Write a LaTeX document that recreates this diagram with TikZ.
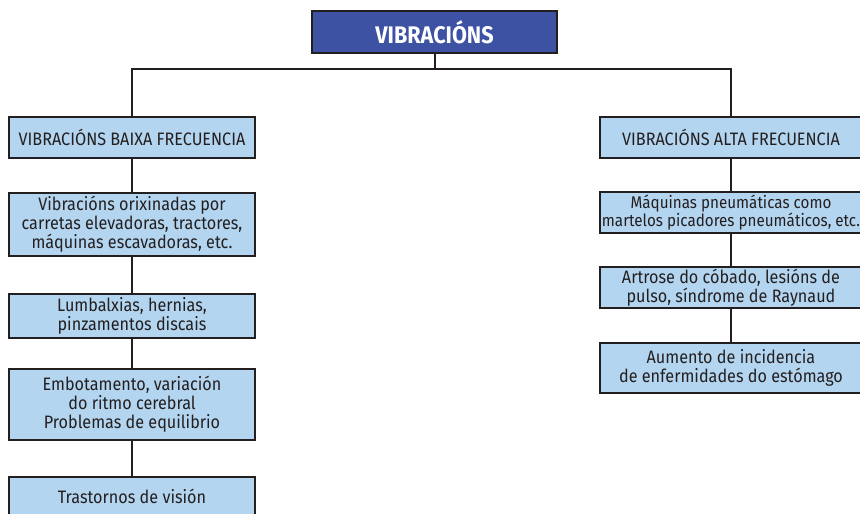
\documentclass[tikz,border=0pt]{standalone}
\usepackage{fontspec}
\setmainfont{Fira Sans}[FakeStretch=0.9]
\usepackage{xcolor}
\usepackage{tikz}
\usetikzlibrary{positioning, calc}

\definecolor{titleblue}{HTML}{3D52A3}
\definecolor{boxblue}{HTML}{B4D5EF}
\definecolor{edge}{HTML}{231F20}

\begin{document}
\begin{tikzpicture}[
    x=1pt, y=-1pt,
    title/.style={rectangle, draw=edge, line width=2.6pt, fill=titleblue, text=white, font=\fontsize{24}{26}\selectfont\bfseries, minimum width=245pt, minimum height=42pt, inner sep=0pt},
    header/.style={rectangle, draw=edge, line width=1.6pt, fill=boxblue, text=edge, font=\fontsize{18}{18.8}\selectfont, minimum height=41pt, inner sep=0pt, align=center},
    effect/.style={header},
    link/.style={line width=2pt, draw=edge}
]
\useasboundingbox (0,0) rectangle (860,514);
\clip (0,0) rectangle (860,514);

\node[title] (vib) at (434.5,32) {VIBRACIÓNS};

\node[header, minimum width=246pt] (low) at (132,137.5) {VIBRACIÓNS BAIXA FRECUENCIA};
\node[header, minimum width=262pt] (high) at (731,137.5) {VIBRACIÓNS ALTA FRECUENCIA};

% baixa frecuencia
\node[effect, minimum width=246pt, minimum height=63pt] (low1) at (132,224.5) {Vibracións orixinadas por\\carretas elevadoras, tractores,\\máquinas escavadoras, etc.};
\node[effect, minimum width=246pt, minimum height=44pt] (low2) at (132,316) {Lumbalxias, hernias,\\pinzamentos discais};
\node[effect, minimum width=246pt, minimum height=71pt] (low3) at (132,404.5) {Embotamento, variación\\do ritmo cerebral\\Problemas de equilibrio};
\node[effect, minimum width=246pt, minimum height=38pt] (low4) at (132,496) {Trastornos de visión};

% alta frecuencia
\node[effect, minimum width=262pt, font=\fontsize{16.9}{18.8}\selectfont] (high1) at (731,212.5) {Máquinas pneumáticas como\\martelos picadores pneumáticos, etc.};
\node[effect, minimum width=262pt] (high2) at (731,287.5) {Artrose do cóbado, lesións de\\pulso, síndrome de Raynaud};
\node[effect, minimum width=262pt, minimum height=50pt] (high3) at (731,368) {Aumento de incidencia\\de enfermidades do estómago};

\coordinate (bus) at (434.5,69);

\draw[link] (vib.south) -- (bus);
\draw[link] (low.north) -- (low.north |- bus) -- (high.north |- bus) -- (high.north);
\draw[link] (low.south) -- (low1.north);
\draw[link] (low1.south) -- (low2.north);
\draw[link] (low2.south) -- (low3.north);
\draw[link] (low3.south) -- (low4.north);
\draw[link] (high.south) -- (high1.north);
\draw[link] (high1.south) -- (high2.north);
\draw[link] (high2.south) -- (high3.north);

\end{tikzpicture}
\end{document}
